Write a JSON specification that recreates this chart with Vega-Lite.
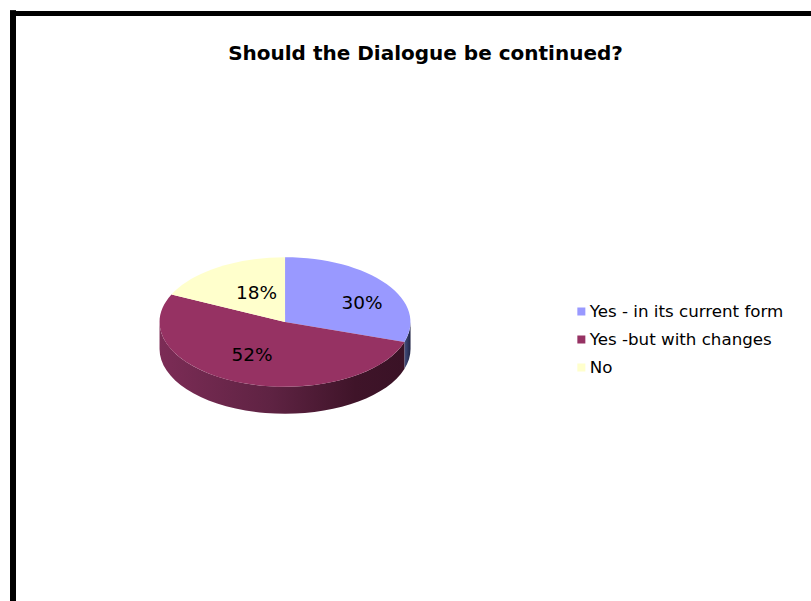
{
  "$schema": "https://vega.github.io/schema/vega-lite/v6.json",
  "width": 798,
  "height": 587.5,
  "autosize": "none",
  "padding": {"left": 13, "top": 13.5, "right": 0, "bottom": 0},
  "background": "#ffffff",
  "config": {"view": {"stroke": null}},
  "title": {
    "text": "Should the Dialogue be continued?",
    "font": "DejaVu Sans",
    "fontSize": 20,
    "fontWeight": "bold",
    "color": "#000000",
    "anchor": "middle",
    "frame": "group",
    "dx": 13.5,
    "offset": -55
  },
  "data": {
    "values": [
      {"answer": "Yes - in its current form", "percent": 30, "order": 1},
      {"answer": "Yes -but with changes", "percent": 52, "order": 2},
      {"answer": "No", "percent": 18, "order": 3}
    ]
  },
  "transform": [
    {"stack": "percent", "groupby": [], "sort": [{"field": "order", "order": "ascending"}], "as": ["start", "end"]},
    {"calculate": "datum.start / 100 * 2 * PI", "as": "a0"},
    {"calculate": "datum.end / 100 * 2 * PI", "as": "a1"},
    {"calculate": "max(datum.a0, PI / 2)", "as": "b0"},
    {"calculate": "min(datum.a1, 3 * PI / 2)", "as": "b1"},
    {"calculate": "round(sin(datum.a0) * 10000) / 10000", "as": "x0"},
    {"calculate": "round(-0.516 * cos(datum.a0) * 10000) / 10000", "as": "y0"},
    {"calculate": "round(sin(datum.a1) * 10000) / 10000", "as": "x1"},
    {"calculate": "round(-0.516 * cos(datum.a1) * 10000) / 10000", "as": "y1"},
    {"calculate": "round(sin(datum.b0) * 10000) / 10000", "as": "sx0"},
    {"calculate": "round(-0.516 * cos(datum.b0) * 10000) / 10000", "as": "sy0"},
    {"calculate": "round(sin(datum.b1) * 10000) / 10000", "as": "sx1"},
    {"calculate": "round(-0.516 * cos(datum.b1) * 10000) / 10000", "as": "sy1"},
    {
      "calculate": "'M0,0 L' + datum.x0 + ',' + datum.y0 + ' A1,0.516 0 ' + (datum.a1 - datum.a0 > PI ? 1 : 0) + ' 1 ' + datum.x1 + ',' + datum.y1 + ' Z'",
      "as": "facePath"
    },
    {
      "calculate": "datum.b1 <= datum.b0 ? 'M0,0 Z' : 'M' + datum.sx0 + ',' + datum.sy0 + ' A1,0.516 0 0 1 ' + datum.sx1 + ',' + datum.sy1 + ' L' + datum.sx1 + ',' + (datum.sy1 + 0.215) + ' A1,0.516 0 0 0 ' + datum.sx0 + ',' + (datum.sy0 + 0.215) + ' Z'",
      "as": "sidePath"
    },
    {"calculate": "datum.percent + '%'", "as": "label"}
  ],
  "layer": [
    {
      "mark": {"type": "rule", "color": "#000000", "strokeWidth": 6, "strokeCap": "square"},
      "encoding": {
        "x": {"datum": 0, "type": "quantitative", "scale": {"domain": [0, 1], "nice": false, "zero": false}, "axis": null}
      }
    },
    {
      "mark": {"type": "rule", "color": "#000000", "strokeWidth": 5, "strokeCap": "square"},
      "encoding": {
        "y": {"datum": 0, "type": "quantitative", "scale": {"domain": [0, 1], "reverse": true, "nice": false, "zero": false}, "axis": null}
      }
    },
    {
      "transform": [{"filter": "datum.order === 1"}],
      "mark": {
        "type": "point", "filled": true, "opacity": 1, "size": 63001,
        "color": {"gradient": "linear", "x1": 0, "x2": 1, "y1": 0, "y2": 0, "stops": [{"offset": 0, "color": "#45507f"}, {"offset": 1, "color": "#1f2345"}]}
      },
      "encoding": {
        "x": {"datum": 0.3409, "type": "quantitative", "axis": null},
        "y": {"datum": 0.5251, "type": "quantitative", "axis": null},
        "shape": {"field": "sidePath", "type": "nominal", "scale": null}
      }
    },
    {
      "transform": [{"filter": "datum.order === 2"}],
      "mark": {
        "type": "point", "filled": true, "opacity": 1, "size": 63001,
        "color": {"gradient": "linear", "x1": 0, "x2": 1, "y1": 0, "y2": 0, "stops": [{"offset": 0, "color": "#7c2c56"}, {"offset": 0.45, "color": "#5f2343"}, {"offset": 0.8, "color": "#3f1429"}, {"offset": 1, "color": "#3a1226"}]}
      },
      "encoding": {
        "x": {"datum": 0.3409, "type": "quantitative", "axis": null},
        "y": {"datum": 0.5251, "type": "quantitative", "axis": null},
        "shape": {"field": "sidePath", "type": "nominal", "scale": null}
      }
    },
    {
      "mark": {"type": "point", "filled": true, "opacity": 1, "size": 63001},
      "encoding": {
        "x": {"datum": 0.3409, "type": "quantitative", "axis": null},
        "y": {"datum": 0.5251, "type": "quantitative", "axis": null},
        "shape": {"field": "facePath", "type": "nominal", "scale": null},
        "color": {
          "field": "answer",
          "type": "nominal",
          "sort": null,
          "scale": {
            "domain": ["Yes - in its current form", "Yes -but with changes", "No"],
            "range": ["#9999ff", "#963263", "#ffffcc"]
          },
          "legend": {
            "title": null,
            "orient": "none",
            "legendX": 560,
            "legendY": 289,
            "symbolType": "square",
            "symbolSize": 64,
            "symbolStrokeWidth": 0,
            "labelFont": "DejaVu Sans",
            "labelFontSize": 16.7,
            "labelColor": "#000000",
            "labelOffset": 0,
            "labelLimit": 300,
            "rowPadding": 10,
            "clipHeight": 18,
            "padding": 0
          }
        }
      }
    },
    {
      "transform": [{"filter": "datum.order === 1"}],
      "mark": {"type": "text", "font": "DejaVu Sans", "fontSize": 18.5, "color": "#000000", "dx": 77, "dy": -19},
      "encoding": {
        "x": {"datum": 0.3409, "type": "quantitative", "axis": null},
        "y": {"datum": 0.5251, "type": "quantitative", "axis": null},
        "text": {"field": "label"}
      }
    },
    {
      "transform": [{"filter": "datum.order === 2"}],
      "mark": {"type": "text", "font": "DejaVu Sans", "fontSize": 18.5, "color": "#000000", "dx": -33, "dy": 33},
      "encoding": {
        "x": {"datum": 0.3409, "type": "quantitative", "axis": null},
        "y": {"datum": 0.5251, "type": "quantitative", "axis": null},
        "text": {"field": "label"}
      }
    },
    {
      "transform": [{"filter": "datum.order === 3"}],
      "mark": {"type": "text", "font": "DejaVu Sans", "fontSize": 18.5, "color": "#000000", "dx": -28.5, "dy": -29},
      "encoding": {
        "x": {"datum": 0.3409, "type": "quantitative", "axis": null},
        "y": {"datum": 0.5251, "type": "quantitative", "axis": null},
        "text": {"field": "label"}
      }
    }
  ]
}
